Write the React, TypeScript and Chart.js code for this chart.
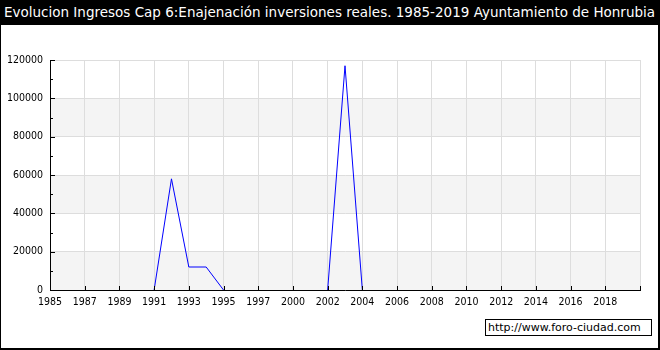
import React, { useEffect, useRef } from "react";
import { Chart, registerables } from "chart.js";

Chart.register(...registerables);

const TITLE = "Evolucion Ingresos Cap 6:Enajenación inversiones reales. 1985-2019 Ayuntamiento de Honrubia";
const WATERMARK = "http://www.foro-ciudad.com";

const years: string[] = [
  "1985", "1986", "1987", "1988", "1989", "1990", "1991", "1992", "1993", "1994",
  "1995", "1996", "1997", "1998", "2000", "2001", "2002", "2003", "2004", "2005",
  "2006", "2007", "2008", "2009", "2010", "2011", "2012", "2013", "2014", "2015",
  "2016", "2017", "2018", "2019",
];

const values: (number | null)[] = [
  null, null, null, null, null, null, 0, 58000, 12000, 12000,
  0, null, null, null, null, null, 0, 117000, 0, null,
  null, null, null, null, null, null, null, null, null, null,
  null, null, null, null,
];

const yTicks: number[] = [0, 20000, 40000, 60000, 80000, 100000, 120000];
const stripeBands: [number, number][] = [[0, 20000], [40000, 60000], [80000, 100000]];

const TICK_FONT = "'DejaVu Sans Condensed', 'DejaVu Sans', sans-serif";

export default function App() {
  const ref = useRef<HTMLCanvasElement | null>(null);

  useEffect(() => {
    if (!ref.current) return;
    const points = values.map((v, i) => ({ x: i, y: v }));

    const stripes = {
      id: "stripes",
      beforeDraw(chart: any) {
        const { ctx, chartArea, scales } = chart;
        const y = scales.y;
        ctx.save();
        ctx.fillStyle = "#f4f4f4";
        for (const [a, b] of stripeBands) {
          const top = y.getPixelForValue(b);
          const bot = y.getPixelForValue(a);
          ctx.fillRect(chartArea.left, top, chartArea.right - chartArea.left, bot - top);
        }
        ctx.restore();
      },
    };

    const innerTicks = {
      id: "innerTicks",
      afterDraw(chart: any) {
        const { ctx, chartArea, scales } = chart;
        const x = scales.x;
        const y = scales.y;
        ctx.save();
        ctx.strokeStyle = "#000";
        ctx.lineWidth = 1;
        ctx.beginPath();
        for (let v = 0; v <= 120000; v += 10000) {
          const py = Math.round(y.getPixelForValue(v)) + 0.5;
          const len = v % 20000 === 0 ? 5 : 3;
          ctx.moveTo(chartArea.left, py);
          ctx.lineTo(chartArea.left + len, py);
        }
        for (let i = 0; i <= years.length; i += 2) {
          const px = Math.round(x.getPixelForValue(i)) + 0.5;
          ctx.moveTo(px, chartArea.bottom);
          ctx.lineTo(px, chartArea.bottom - 4);
        }
        ctx.stroke();
        ctx.restore();
      },
    };

    const chart = new Chart(ref.current, {
      type: "line",
      data: {
        datasets: [
          {
            data: points as any,
            borderColor: "#0000ff",
            borderWidth: 1,
            pointRadius: 0,
            spanGaps: false,
            tension: 0,
            fill: false,
          },
        ],
      },
      options: {
        animation: false,
        responsive: false,
        devicePixelRatio: 1,
        layout: { padding: { left: 0, top: 60, right: 20, bottom: 0 } },
        plugins: {
          legend: { display: false },
          title: { display: false },
          tooltip: { enabled: false },
        },
        scales: {
          x: {
            type: "linear",
            min: 0,
            max: years.length,
            afterFit(s: any) {
              s.height = 60;
            },
            afterBuildTicks(s: any) {
              const t = [];
              for (let i = 0; i <= years.length; i += 2) t.push({ value: i });
              s.ticks = t;
            },
            grid: { color: "#dddddd", drawTicks: false, lineWidth: 1 },
            border: { display: true, color: "#000000", width: 1 },
            ticks: {
              color: "#000",
              font: { family: TICK_FONT, size: 10.5 },
              padding: 6,
              maxRotation: 0,
              autoSkip: false,
              callback: (v: any) => years[v as number] ?? "",
            },
          },
          y: {
            min: 0,
            max: 120000,
            afterFit(s: any) {
              s.width = 50;
            },
            afterBuildTicks(s: any) {
              s.ticks = yTicks.map((v) => ({ value: v }));
            },
            grid: { color: "#dddddd", drawTicks: false, lineWidth: 1 },
            border: { display: true, color: "#000000", width: 1 },
            ticks: {
              color: "#000",
              font: { family: TICK_FONT, size: 10.5 },
              padding: 7,
              callback: (v: any) => String(v),
            },
          },
        },
      },
      plugins: [stripes, innerTicks],
    });
    return () => chart.destroy();
  }, []);

  return (
    <div style={{ position: "absolute", left: 0, top: 0, width: 660, height: 350, background: "#fff", overflow: "hidden" }}>
      <canvas ref={ref} width={660} height={350} style={{ position: "absolute", left: 0, top: 0 }} />
      <div
        style={{
          position: "absolute", left: 0, top: 0, width: 660, height: 25, background: "#000", color: "#fff",
          fontFamily: "'DejaVu Sans', sans-serif", fontSize: 13.5, lineHeight: "25px", paddingLeft: 4,
          boxSizing: "border-box", whiteSpace: "nowrap",
        }}
      >
        {TITLE}
      </div>
      <div
        style={{
          position: "absolute", left: 0, top: 0, width: 660, height: 350, boxSizing: "border-box",
          borderLeft: "1px solid #000", borderTop: "1px solid #000", borderRight: "2px solid #000",
          borderBottom: "2px solid #000", pointerEvents: "none",
        }}
      />
      <div
        style={{
          position: "absolute", left: 485, top: 319, width: 167, height: 17, boxSizing: "border-box",
          border: "1px solid #000", background: "#fff", fontFamily: "'DejaVu Sans', sans-serif", fontSize: 11,
          lineHeight: "15px", paddingLeft: 2, whiteSpace: "nowrap", color: "#000",
        }}
      >
        {WATERMARK}
      </div>
    </div>
  );
}
